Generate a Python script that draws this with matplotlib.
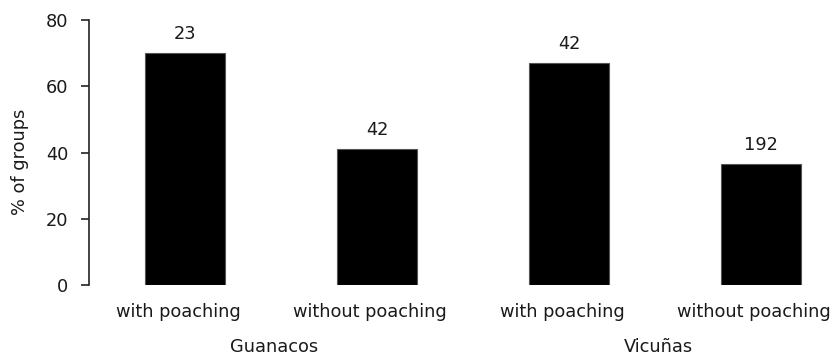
import matplotlib
matplotlib.use("Agg")
import matplotlib.pyplot as plt
import matplotlib.transforms as mtransforms

# Data
categories = ["with poaching", "without poaching", "with poaching", "without poaching"]
groups = ["Guanacos", "Vicuñas"]
percent_groups = [70.0, 41.0, 67.0, 36.5]
n_groups = ["23", "42", "42", "192"]
y_ticks = [0, 20, 40, 60, 80]

plt.rcParams["font.family"] = ["DejaVu Sans"]
text_color = "#1a1a1a"
fs = 12.8

fig = plt.figure(figsize=(8.33, 3.58), dpi=100)
ax = fig.add_axes([89 / 833, 73 / 358, 744 / 833, 265 / 358])

x = list(range(len(categories)))
bars = ax.bar(x, percent_groups, width=0.42, color="black",
              edgecolor="#555555", linewidth=0.8)

for xi, val, n in zip(x, percent_groups, n_groups):
    ax.annotate(n, (xi, val), xytext=(0, 13.5), textcoords="offset points",
                ha="center", va="center", fontsize=fs, color=text_color)

ax.set_xlim(-0.5, 3.375)
ax.set_ylim(0, 80)

for side in ("top", "right", "bottom"):
    ax.spines[side].set_visible(False)
ax.spines["left"].set_bounds(0, 80)
ax.spines["left"].set_linewidth(1.2)
ax.spines["left"].set_color("#222222")

ax.set_yticks(y_ticks)
ax.set_yticklabels([str(t) for t in y_ticks])
ax.tick_params(axis="y", length=6, width=1.2, color="#222222", pad=9,
               labelsize=fs, labelcolor=text_color)
ax.set_xticks(x)
ax.set_xticklabels(categories)
ax.tick_params(axis="x", length=0, pad=13, labelsize=fs, labelcolor=text_color)

# category labels sit slightly left of the bar centres
shift = mtransforms.ScaledTranslation(-7 / 100, 0, fig.dpi_scale_trans)
for lbl in ax.get_xticklabels():
    lbl.set_transform(lbl.get_transform() + shift)

trans = mtransforms.blended_transform_factory(ax.transData, ax.transAxes)
for gx, g in zip([0.5, 2.5], groups):
    ax.text(gx, (285 - 347) / 265, g, transform=trans + shift, ha="center",
            va="center", fontsize=fs, color=text_color)

fig.text(20 / 833, 1 - 162 / 358, "% of groups", rotation=90, ha="center",
         va="center", fontsize=fs, color=text_color)

fig.savefig("out.png", dpi=100, facecolor="white")
